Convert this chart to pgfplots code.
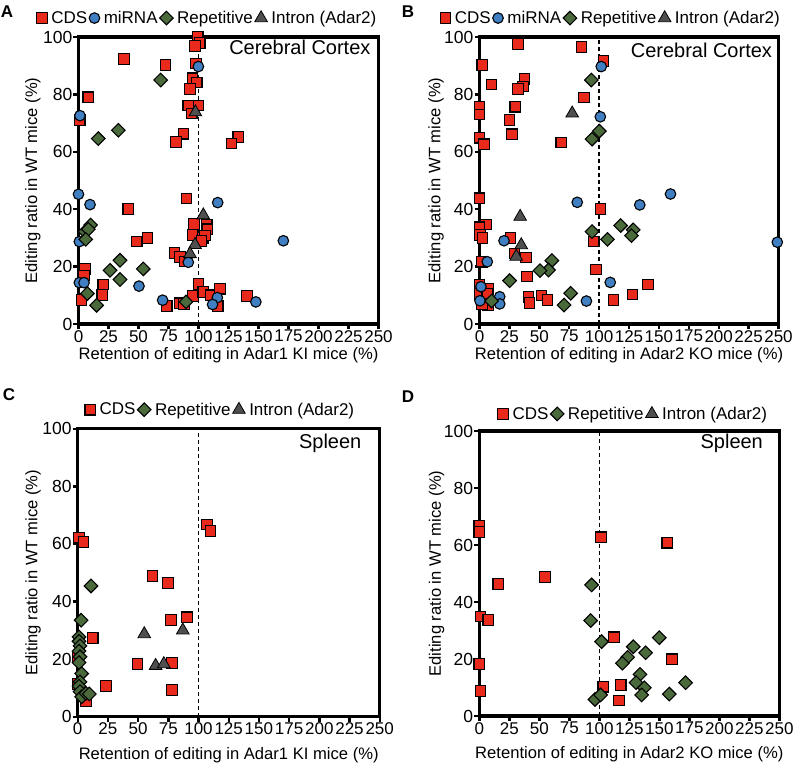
\documentclass[border=0pt]{standalone}
\usepackage{fontspec}
\setmainfont{Liberation Sans}
\usepackage{pgfplots}
\pgfplotsset{compat=1.18}

\definecolor{cdsred}{HTML}{E8291C}
\definecolor{mirblue}{HTML}{3F7FC2}
\definecolor{repgreen}{HTML}{4B6A3B}
\definecolor{intgray}{HTML}{4F4F4F}

\pgfplotsset{
  panel/.style={
    scale only axis, anchor=south west,
    xmin=0, xmax=250, ymin=0, ymax=100,
    xtick={0,25,...,250}, ytick={0,20,...,100},
    tick pos=left, tick align=outside, major tick length=5pt,
    axis line style={line width=3.5pt},
    every tick/.style={black, line width=2.4pt},
    clip=false,
    /pgf/number format/assume math mode=true,
    xticklabel style={font=\fontsize{17}{17}\selectfont, inner sep=1pt},
    yticklabel style={font=\fontsize{17.5}{17.5}\selectfont, inner sep=1pt},
    label style={font=\fontsize{16.6}{16.6}\selectfont},
    legend style={draw=none, fill=none, font=\fontsize{17}{17}\selectfont,
      legend columns=-1, inner sep=0pt,
      /tikz/every odd column/.append style={column sep=2pt},
      /tikz/every even column/.append style={column sep=0pt}},
    legend image code/.code={\draw[##1] plot coordinates {(0pt,0pt)};},
  },
  cds/.style={only marks, mark=square*, mark size=5.3pt,
    mark options={fill=cdsred, draw=black, line width=1.1pt}},
  mir/.style={only marks, mark=*, mark size=5.3pt,
    mark options={fill=mirblue, draw=black, line width=1.1pt}},
  rep/.style={only marks, mark=square*, mark size=4.8pt,
    mark options={rotate=45, fill=repgreen, draw=black, line width=1.1pt}},
  intr/.style={only marks, mark=triangle*, mark size=7.3pt,
    mark options={fill=intgray, draw=black, line width=0.8pt}},
  cut/.style={forget plot, black, line width=1.3pt, dash pattern=on 4pt off 3pt},
}

\begin{document}
\begin{tikzpicture}
\useasboundingbox (0pt,0pt) rectangle (794pt,764pt);

% ---------------- A ----------------
\begin{axis}[panel, at={(78.5pt,440pt)}, width=300pt, height=287pt,
  xlabel={Retention of editing in Adar1 KI mice (\%)},
  ylabel={Editing ratio in WT mice (\%)},
  xlabel style={at={(axis description cs:0.5,-0.108)}, anchor=center},
  ylabel style={at={(axis description cs:-0.152,0.5)}, anchor=center},
  legend style={at={(axis description cs:0.43,1.066)}, anchor=center}]
\addplot[cut] coordinates {(100,0) (100,100)};
\addplot[cds] coordinates {
  (99.3,100) (101,97.9) (97,96.9) (37.9,92.3) (72.4,90.2) (98,90.8)
  (95.1,85.6) (98.5,84.1) (92.9,81.8) (8.2,79) (91.5,76.1) (99.9,76.1)
  (94.3,73.3) (1,71) (87.4,66.3) (81.3,63.4) (133.2,65.2) (127.6,62.9)
  (90.1,43.7) (41.5,40) (48.5,28.7) (57.4,29.9) (96.3,34.8) (106.8,34.5)
  (107.6,33) (95.1,31) (103.5,29.9) (105.4,30.8) (102.6,29) (79.9,24.7)
  (84.6,23.3) (88.7,21.8) (5.4,19.2) (4.6,16.9) (20.7,13.8) (99.9,14)
  (19.8,10.1) (2.6,8.3) (73.5,6.3) (84.6,7.2) (88,6.9) (95.5,9.8)
  (104,11.1) (110.2,10) (117.9,12.3) (116,6.2) (140.4,9.8)
};
\addlegendentry{CDS}
\addplot[mir] coordinates {
  (99.9,89.7) (1.2,72.6) (0,45.2) (9.6,41.6) (116,42.3) (0.7,28.7)
  (91.5,21.5) (0.7,14.4) (4.6,14.4) (50.4,13.2) (70.1,8.3) (115.7,9.2)
  (111.7,6.8) (147.8,7.7) (170.7,29)
};
\addlegendentry{miRNA}
\addplot[rep] coordinates {
  (68.5,85) (16.5,64.6) (33.2,67.5) (10.1,34.5) (5.4,32.2) (8.2,33)
  (6,29.5) (34.6,22.2) (26.3,18.7) (54,19.2) (34.6,15.5) (7.4,10.6)
  (15.1,6.5) (89.6,7.7)
};
\addlegendentry{Repetitive}
\addplot[intr] coordinates {(97.4,73.8) (104,37.9) (97.1,27.6) (92.9,24.4)};
\addlegendentry{Intron (Adar2)}
\node[anchor=east, font=\fontsize{20}{20}\selectfont] at (axis description cs:0.985,0.965) {Cerebral Cortex};
\end{axis}

% ---------------- B ----------------
\begin{axis}[panel, at={(479.5pt,440pt)}, width=299pt, height=287pt,
  xlabel={Retention of editing in Adar2 KO mice (\%)},
  ylabel={Editing ratio in WT mice (\%)},
  xlabel style={at={(axis description cs:0.5,-0.108)}, anchor=center},
  ylabel style={at={(axis description cs:-0.145,0.5)}, anchor=center},
  legend style={at={(axis description cs:0.44,1.066)}, anchor=center}]
\addplot[cut] coordinates {(100,0) (100,100)};
\addplot[cds] coordinates {
  (32.1,97.5) (85.3,96.5) (2.3,90.2) (103.7,91.6) (10.1,83.5) (37.6,85.4)
  (36.2,82.7) (32.1,81.8) (87.2,78.9) (0,75.7) (0,73) (29.9,75.7)
  (25.2,71.1) (27.1,66.1) (0,64.9) (3.7,62.6) (68.4,63.2) (0,43.8)
  (101.2,40) (5.4,34.7) (0,33.7) (0.5,31) (2.6,29.9) (95.5,28.7)
  (26,29.9) (29.3,24.6) (39,23.2) (1.8,21.7) (97.4,19) (39.8,16.5)
  (141,13.8) (0,13.6) (7.3,12.2) (0.5,10.5) (6.5,10.5) (7.3,6.6)
  (2,7) (40.9,9.5) (41.7,7.4) (51.9,9.9) (56.9,8.4) (112,8.4) (128,10.3)
};
\addlegendentry{CDS}
\addplot[mir] coordinates {
  (101.8,89.7) (101,72.2) (81.7,42.4) (134,41.5) (159.7,45.3) (249,28.5)
  (20.5,29) (6.5,21.7) (109.3,14.5) (1.2,13) (16.9,9.5) (16.9,7)
  (0.4,8.1) (89.4,8)
};
\addlegendentry{miRNA}
\addplot[rep] coordinates {
  (93.5,85) (100.2,67.2) (94.1,64.4) (94.1,32.2) (118,34.3) (128.5,32.8)
  (127.1,30.8) (107,29.5) (60.5,22.1) (57.7,18.8) (50.6,18.6) (25.2,15.1)
  (10.1,8) (70.7,6.6) (76.2,10.7)
};
\addlegendentry{Repetitive}
\addplot[intr] coordinates {(77.5,73.4) (34,37.4) (34.9,27.5) (30.7,23.5)};
\addlegendentry{Intron (Adar2)}
\node[anchor=east, font=\fontsize{20}{20}\selectfont] at (axis description cs:0.99,0.955) {Cerebral Cortex};
\end{axis}

% ---------------- C ----------------
\begin{axis}[panel, at={(77.7pt,47.3pt)}, width=302pt, height=288pt,
  xlabel={Retention of editing in Adar1 KI mice (\%)},
  ylabel={Editing ratio in WT mice (\%)},
  xlabel style={at={(axis description cs:0.5,-0.134)}, anchor=center},
  ylabel style={at={(axis description cs:-0.148,0.5)}, anchor=center},
  legend style={at={(axis description cs:0.473,1.066)}, anchor=center}]
\addplot[cut] coordinates {(100,0) (100,100)};
\addplot[cds] coordinates {
  (1.1,62.2) (4.7,60.7) (107.2,66.7) (109.9,64.5) (62,48.8) (74.9,46.5)
  (77.1,33.5) (90.6,34.5) (12.4,27.4) (0,20.6) (0,11.3) (6.9,5.4)
  (49.6,18.3) (78.2,18.7) (23.4,10.6) (78.2,9.2)
};
\addlegendentry{CDS}
\addplot[rep] coordinates {
  (11,45.4) (2.8,33.5) (1.1,27.7) (1.1,26.2) (1.9,24.6) (1.1,22.8)
  (1.9,20.8) (1.1,18.8) (3.3,15) (1.9,12.1) (1.1,10.6) (1.9,8.7)
  (3.3,6.9) (6.9,8.1) (9.6,7.9)
};
\addlegendentry{Repetitive}
\addplot[intr] coordinates {(55.1,28.7) (87,30) (64.5,17.7) (71.3,18.3)};
\addlegendentry{Intron (Adar2)}
\node[anchor=east, font=\fontsize{20}{20}\selectfont] at (axis description cs:0.951,0.949) {Spleen};
\end{axis}

% ---------------- D ----------------
\begin{axis}[panel, at={(479.3pt,48pt)}, width=300pt, height=285pt,
  xlabel={Retention of editing in Adar2 KO mice (\%)},
  ylabel={Editing ratio in WT mice (\%)},
  xlabel style={at={(axis description cs:0.5,-0.134)}, anchor=center},
  ylabel style={at={(axis description cs:-0.142,0.5)}, anchor=center},
  legend style={at={(axis description cs:0.514,1.06)}, anchor=center}]
\addplot[cut] coordinates {(100,0) (100,100)};
\addplot[cds] coordinates {
  (0,66.7) (0,64.6) (101.4,62.7) (156.7,60.8) (15.8,46.3) (54.7,48.8)
  (1.1,34.9) (7.5,33.7) (112.2,27.6) (160.6,19.9) (0,18.2) (1.1,8.8)
  (103.3,10.3) (117.8,10.9) (116.4,5.4)
};
\addlegendentry{CDS}
\addplot[rep] coordinates {
  (93.6,46) (92.8,33.5) (101.9,26.1) (128.3,24.3) (150,27.5) (138.6,22.2)
  (123.6,20.6) (119.2,18.5) (133.9,14.6) (130.6,11.7) (137.5,9.9)
  (171.9,11.7) (135.3,7.4) (158.3,7.7) (96.4,5.8) (101.1,7.4)
};
\addlegendentry{Repetitive}
\addlegendimage{intr}
\addlegendentry{Intron (Adar2)}
\node[anchor=east, font=\fontsize{20}{20}\selectfont] at (axis description cs:0.957,0.957) {Spleen};
\end{axis}

\node[font=\fontsize{17}{17}\selectfont\bfseries] at (7pt,752pt) {A};
\node[font=\fontsize{17}{17}\selectfont\bfseries] at (408pt,752pt) {B};
\node[font=\fontsize{17}{17}\selectfont\bfseries] at (9pt,369pt) {C};
\node[font=\fontsize{17}{17}\selectfont\bfseries] at (408pt,367pt) {D};
\end{tikzpicture}
\end{document}
